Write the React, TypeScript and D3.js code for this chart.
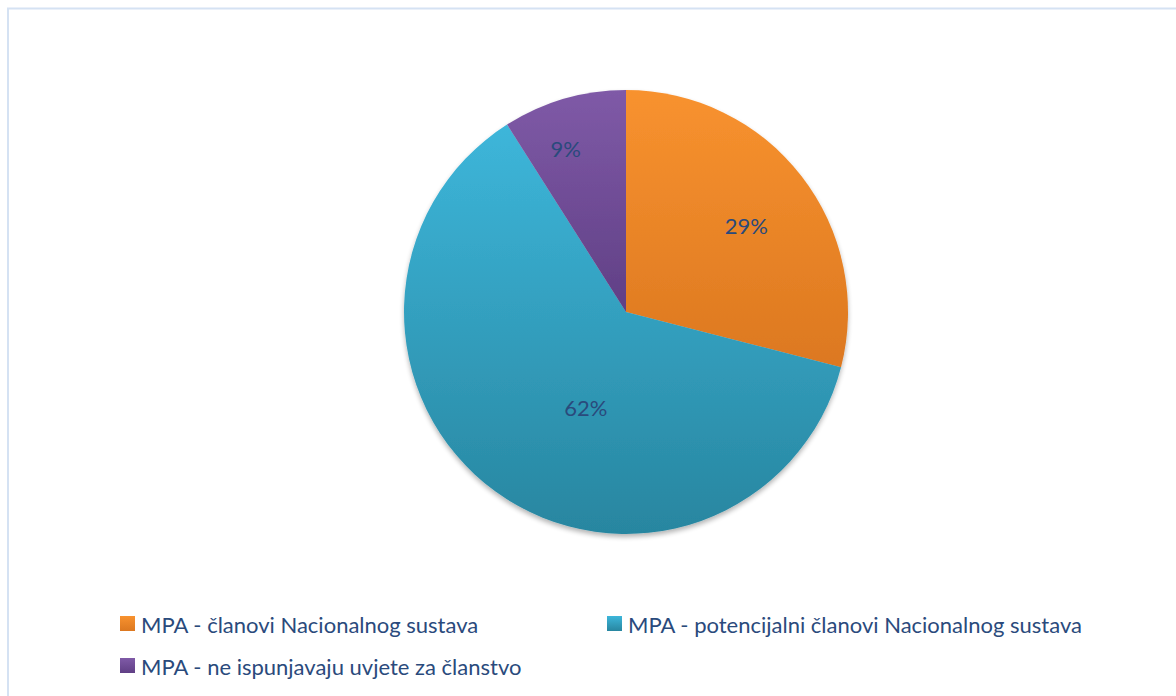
import React from "react";
import * as d3 from "d3";

const categories = [
  "MPA - članovi Nacionalnog sustava",
  "MPA - potencijalni članovi Nacionalnog sustava",
  "MPA - ne ispunjavaju uvjete za članstvo",
];
const values = [29, 62, 9];
const labels = ["29%", "62%", "9%"];

const colorsTop = ["#f8922f", "#3db6da", "#7f5aa7"];
const colorsBottom = ["#dc7820", "#2886a0", "#603f85"];

const W = 1176;
const H = 696;
const cx = 626;
const cy = 312;
const R = 222;
const labelRadius = [146, 104, 173];
const labelShift = [
  [5, 3],
  [21, 11],
  [-12, 3],
];
const textColor = "#2a4a7c";
const FONT = "Lato, 'Open Sans', sans-serif";

export default function App() {
  const pie = d3.pie<number>().sort(null).value((d) => d)(values);
  const arc = d3.arc<d3.PieArcDatum<number>>().innerRadius(0).outerRadius(R);

  const legendPos = [
    { x: 120, y: 623 },
    { x: 607, y: 623 },
    { x: 120, y: 665 },
  ];

  return (
    <div style={{ position: "fixed", left: 0, top: 0 }}>
      <svg width={W} height={H} style={{ display: "block", background: "#fff" }}>
        <defs>
          {values.map((_, i) => (
            <linearGradient key={i} id={`g${i}`} x1="0" y1="0" x2="0" y2="1">
              <stop offset="0" stopColor={colorsTop[i]} />
              <stop offset="1" stopColor={colorsBottom[i]} />
            </linearGradient>
          ))}
          <filter id="sh" x="-20%" y="-20%" width="140%" height="140%">
            <feGaussianBlur in="SourceAlpha" stdDeviation="2.5" />
            <feOffset dx="0" dy="3" result="b" />
            <feComponentTransfer>
              <feFuncA type="linear" slope="0.3" />
            </feComponentTransfer>
            <feMerge>
              <feMergeNode />
              <feMergeNode in="SourceGraphic" />
            </feMerge>
          </filter>
        </defs>
        <rect x={8} y={8.5} width={W + 20} height={H + 20} fill="none" stroke="#d5e2f3" strokeWidth={2} />
        <g transform={`translate(${cx},${cy})`}>
          <g filter="url(#sh)">
            {pie.map((p, i) => (
              <path key={i} d={arc(p) || ""} fill={`url(#g${i})`} />
            ))}
          </g>
          {pie.map((p, i) => {
            const la = d3
              .arc<d3.PieArcDatum<number>>()
              .innerRadius(labelRadius[i])
              .outerRadius(labelRadius[i]);
            const [x, y] = la.centroid(p);
            return (
              <text
                key={i}
                x={x + labelShift[i][0]}
                y={y + labelShift[i][1]}
                textAnchor="middle"
                dominantBaseline="central"
                fontFamily={FONT}
                fontSize={22}
                fill={textColor}
              >
                {labels[i]}
              </text>
            );
          })}
        </g>
        {categories.map((c, i) => (
          <g key={c} transform={`translate(${legendPos[i].x},${legendPos[i].y})`}>
            <rect x={0} y={-7} width={15} height={15} fill={`url(#g${i})`} />
            <text x={21} y={1} dominantBaseline="central" fontFamily={FONT} fontSize={22} fill={textColor}>
              {c}
            </text>
          </g>
        ))}
      </svg>
    </div>
  );
}
